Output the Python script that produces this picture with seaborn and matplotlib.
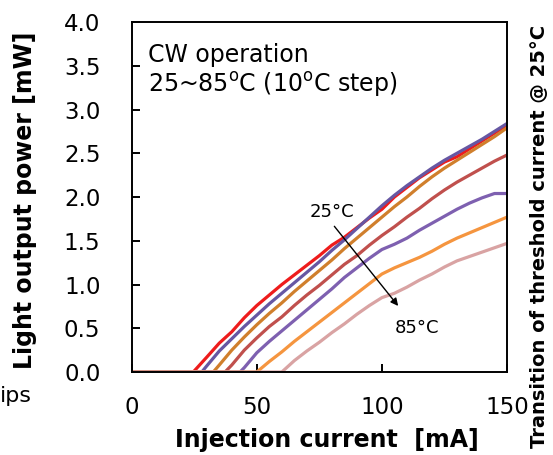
import matplotlib
matplotlib.use("Agg")
import matplotlib.pyplot as plt
import seaborn as sns
import pandas as pd

# ---------------- data ----------------
temps = ["25°C", "35°C", "45°C", "55°C", "65°C", "75°C", "85°C"]
colors = ["#ee1c1c", "#6657a3", "#d07f2c", "#c0504d", "#7e60b0", "#f5953f", "#d9a3a3"]

grid = [30, 35, 40, 45, 50, 55, 60, 65, 70, 75, 80, 85, 90, 95, 100,
        105, 110, 115, 120, 125, 130, 135, 140, 145, 150]

thresholds = [24.6, 28.0, 32.6, 37.3, 43.3, 50.0, 60.0]

power_25 = [0.17, 0.33, 0.46, 0.62, 0.76, 0.88, 1.00, 1.11, 1.22, 1.33, 1.45, 1.54, 1.65,
            1.76, 1.86, 2.00, 2.11, 2.22, 2.31, 2.40, 2.46, 2.55, 2.64, 2.73, 2.82]
power_35 = [0.07, 0.24, 0.38, 0.52, 0.65, 0.78, 0.90, 1.02, 1.14, 1.26, 1.39, 1.51, 1.64,
            1.77, 1.90, 2.02, 2.13, 2.23, 2.33, 2.42, 2.50, 2.58, 2.66, 2.75, 2.84]
power_45 = [0.08, 0.25, 0.40, 0.54, 0.67, 0.79, 0.92, 1.04, 1.16, 1.28, 1.41, 1.53,
            1.65, 1.77, 1.89, 2.00, 2.12, 2.23, 2.33, 2.42, 2.51, 2.60, 2.69, 2.79]
power_55 = [0.08, 0.25, 0.39, 0.52, 0.63, 0.76, 0.88, 0.99, 1.11, 1.23, 1.33, 1.45,
            1.56, 1.66, 1.77, 1.87, 1.98, 2.08, 2.17, 2.25, 2.33, 2.41, 2.48]
power_65 = [0.05, 0.22, 0.35, 0.47, 0.59, 0.71, 0.83, 0.95, 1.08, 1.19, 1.30, 1.40,
            1.46, 1.53, 1.62, 1.70, 1.78, 1.86, 1.93, 1.99, 2.04, 2.04]
power_75 = [0.12, 0.23, 0.35, 0.46, 0.57, 0.68, 0.79, 0.90, 1.01, 1.12, 1.19, 1.25,
            1.31, 1.38, 1.46, 1.53, 1.59, 1.65, 1.71, 1.77]
power_85 = [0.13, 0.24, 0.34, 0.45, 0.55, 0.66, 0.76, 0.85, 0.90, 0.97, 1.05, 1.12,
            1.20, 1.27, 1.32, 1.37, 1.42, 1.47]

powers = [power_25, power_35, power_45, power_55, power_65, power_75, power_85]

x_ticks = [0, 50, 100, 150]
y_ticks = [0.0, 0.5, 1.0, 1.5, 2.0, 2.5, 3.0, 3.5, 4.0]

rows = []
for t, thr, pw in zip(temps, thresholds, powers):
    xs = [0, thr] + grid[len(grid) - len(pw):]
    ys = [0, 0] + pw
    for x, y in zip(xs, ys):
        rows.append({"Temperature": t, "Current": x, "Power": y})
df = pd.DataFrame(rows)

# ---------------- plot ----------------
sns.set_style("ticks")
plt.rcParams["font.family"] = ["DejaVu Sans"]
plt.rcParams["mathtext.fontset"] = "dejavusans"
for k in ["text.color", "axes.labelcolor", "xtick.color", "ytick.color", "axes.edgecolor"]:
    plt.rcParams[k] = "black"

fig = plt.figure(figsize=(5.53, 4.55), dpi=100)
ax = fig.add_axes([0.2382, 0.1824, 0.9168 - 0.2382, 0.9516 - 0.1824])

sns.lineplot(data=df, x="Current", y="Power", hue="Temperature",
             hue_order=temps, palette=colors, linewidth=2.3,
             estimator=None, sort=False, legend=False, ax=ax, zorder=3)

ax.set_xlim(0, 150)
ax.set_ylim(0, 4.0)
ax.set_xticks(x_ticks)
ax.set_yticks(y_ticks)
ax.set_xticklabels([str(v) for v in x_ticks])
ax.set_yticklabels([f"{v:.1f}" for v in y_ticks])

for s in ax.spines.values():
    s.set_visible(True)
    s.set_color("black")
    s.set_linewidth(1.4)
    s.set_zorder(4)

ax.tick_params(axis="both", which="major", direction="in", length=6, width=1.4,
               color="black", labelsize=16.5, labelcolor="black", top=False, right=False)
ax.tick_params(axis="y", pad=22.5, left=True)
ax.tick_params(axis="x", pad=17, bottom=True)

ax.set_xlabel("Injection current  [mA]", fontsize=17, fontweight="bold", va="center")
ax.xaxis.set_label_coords(0.52, -0.194)
ax.set_ylabel("Light output power [mW]", fontsize=17, fontweight="bold", va="center")
ax.yaxis.set_label_coords(-0.284, 0.49)

ax.text(6.5, 3.543, "CW operation", fontsize=17, ha="left", va="baseline")
ax.text(6.5, 3.2, r"25~85$^{\mathrm{o}}$C (10$^{\mathrm{o}}$C step)", fontsize=17,
        ha="left", va="baseline")

ax.annotate("", xy=(107.2, 0.73), xytext=(80.3, 1.69),
            arrowprops=dict(arrowstyle="-|>", color="black", lw=1.0, mutation_scale=11))
ax.text(80.1, 1.771, "25°C", fontsize=13, ha="center", va="baseline")
ax.text(114.2, 0.446, "85°C", fontsize=13, ha="center", va="baseline")

fig.text(0.0, (455 - 402) / 455, "ips", fontsize=16, ha="left", va="baseline")
fig.text(540 / 553, 7 / 455, "Transition of threshold current @ 25°C", fontsize=14,
         fontweight="bold", rotation=90, ha="center", va="bottom")

fig.savefig("out.png", dpi=100)
